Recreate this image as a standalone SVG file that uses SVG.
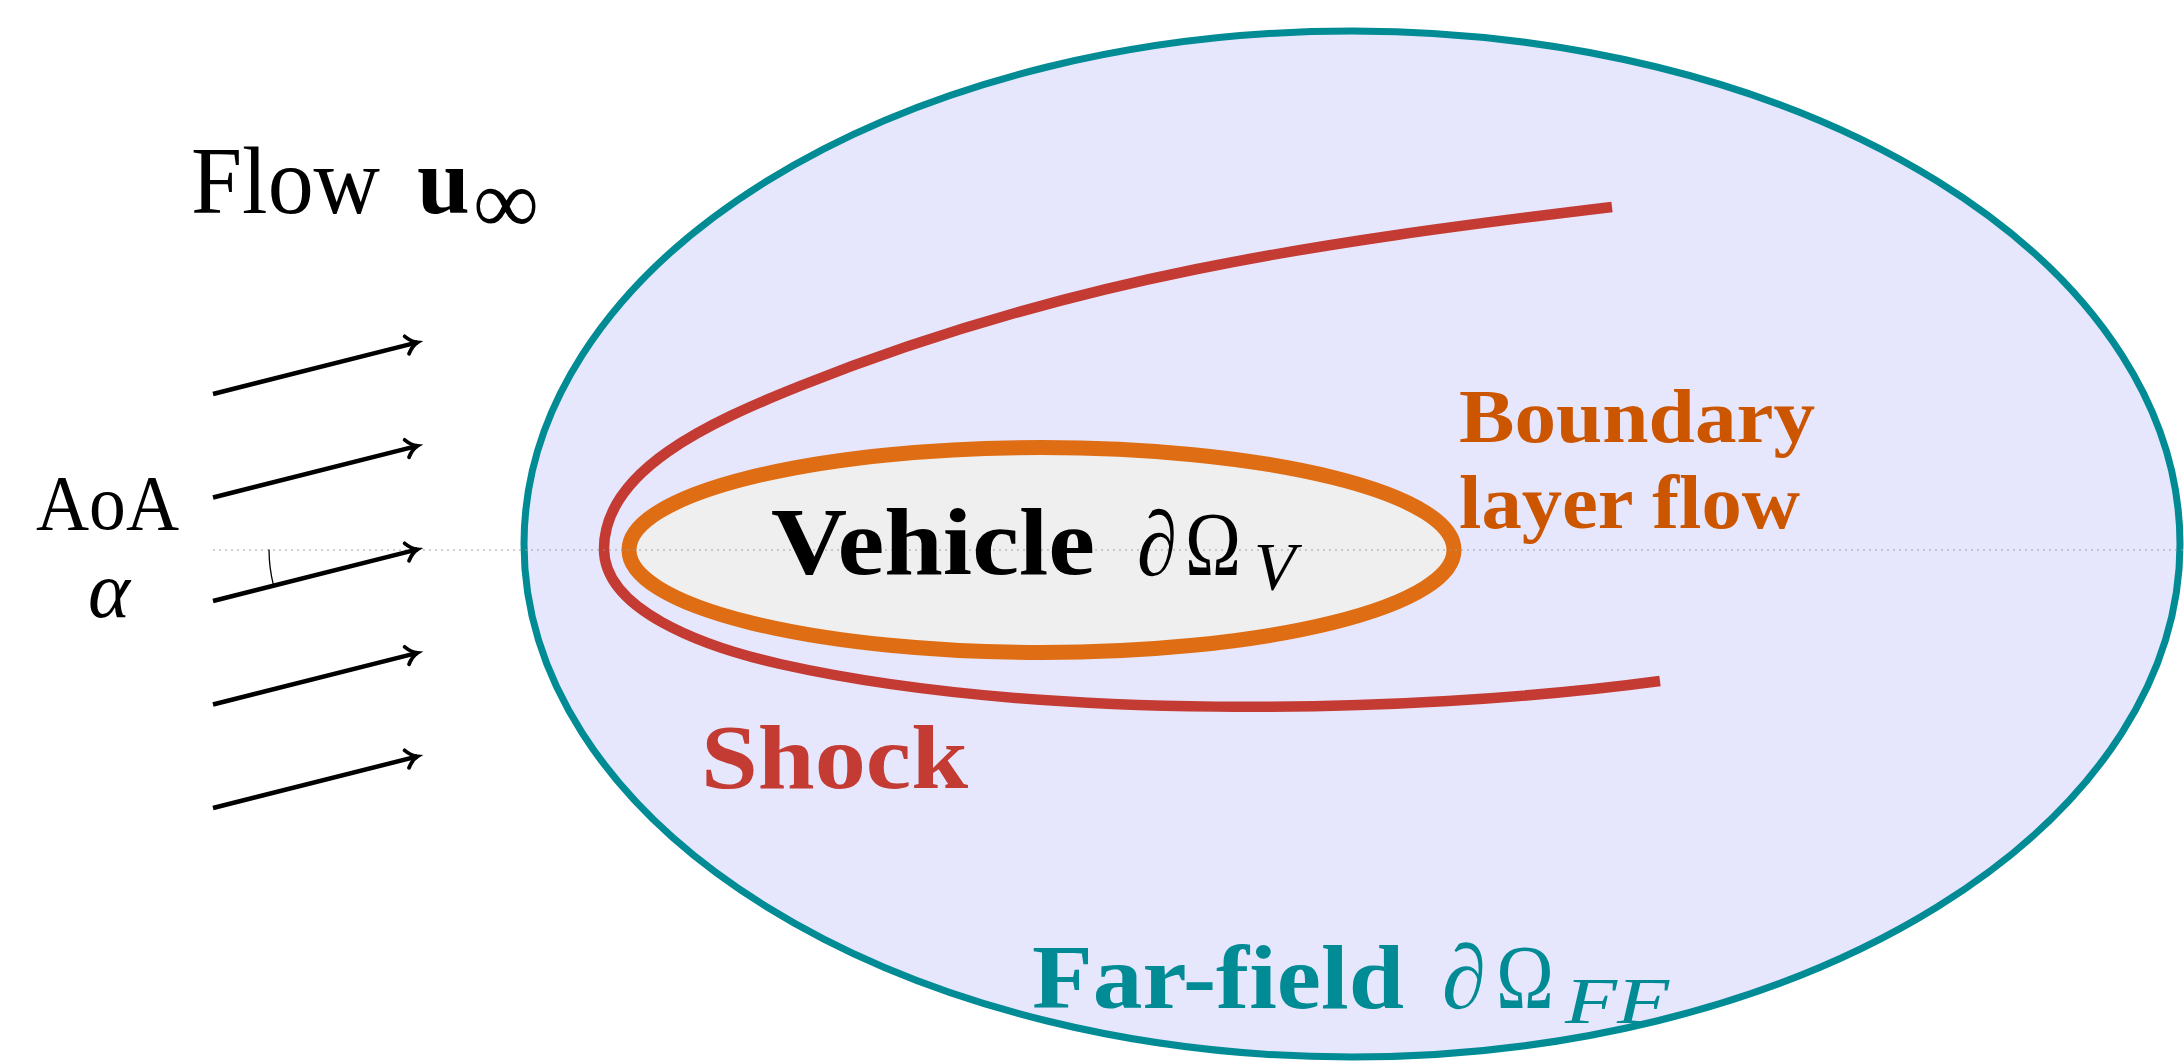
<svg xmlns="http://www.w3.org/2000/svg" width="2184" height="1061" viewBox="0 0 2184 1061">
<style>
.serif{font-family:"Liberation Serif","DejaVu Serif",serif}
.b{font-weight:bold}
.it{font-style:italic}
.blk{fill:#000}
.teal{fill:#008B95}
.red{fill:#C33B32}
.orn{fill:#CC5500}
.flowarrow{stroke:#000;stroke-width:4.5;fill:none;marker-end:url(#to)}
</style>
<defs>
<marker id="to" markerUnits="userSpaceOnUse" viewBox="-14 -12 16 24" markerWidth="16" markerHeight="24" refX="0" refY="0" orient="auto" overflow="visible">
<path d="M -11,-9 C -7,-3.5 -3,-1 0,0 C -3,1 -7,3.5 -11,9" fill="none" stroke="#000" stroke-width="3.8" stroke-linecap="round"/>
</marker>
</defs>
<rect width="2184" height="1061" fill="#fff"/>

<g id="farfield">
<ellipse cx="1352" cy="544" rx="828" ry="513" fill="#E6E6FC" stroke="#008B95" stroke-width="7"/>
</g>

<g id="shock">
<path d="M1612,207 C1312,243 1070,278 800,386 C710,422 604,470 604,549 C604,609 700,646 780,664 C1030,720 1400,716 1660,681" fill="none" stroke="#C33B32" stroke-width="10.5"/>
</g>

<g id="vehicle">
<ellipse cx="1041.5" cy="550" rx="412.5" ry="102.5" fill="#EFEFEF" stroke="#DF6D14" stroke-width="15"/>
</g>

<line id="axis" x1="213" y1="550" x2="2184" y2="550" stroke="#999" stroke-opacity="0.6" stroke-width="1.5" stroke-dasharray="2 4"/>

<g id="vehicle-label" class="serif blk">
<text x="771" y="574" font-size="95" class="b" textLength="324" lengthAdjust="spacingAndGlyphs">Vehicle</text>
<text x="1137" y="575" font-size="92" class="it" textLength="40" lengthAdjust="spacingAndGlyphs">∂</text>
<text x="1185" y="575" font-size="92" textLength="56" lengthAdjust="spacingAndGlyphs">Ω</text>
<text x="1254" y="589" font-size="68" class="it">V</text>
</g>

<g id="boundary-label" class="serif b orn">
<text x="1459" y="442" font-size="76" textLength="356" lengthAdjust="spacingAndGlyphs">Boundary</text>
<text x="1459" y="528" font-size="76" textLength="341" lengthAdjust="spacingAndGlyphs">layer flow</text>
</g>

<g id="shock-label" class="serif b red">
<text x="701" y="788" font-size="92" textLength="267" lengthAdjust="spacingAndGlyphs">Shock</text>
</g>

<g id="farfield-label" class="serif teal">
<text x="1032" y="1008" font-size="91" class="b" textLength="372" lengthAdjust="spacingAndGlyphs">Far-field</text>
<text x="1442" y="1008" font-size="91" class="it" textLength="44" lengthAdjust="spacingAndGlyphs">∂</text>
<text x="1496" y="1008" font-size="91" textLength="58" lengthAdjust="spacingAndGlyphs">Ω</text>
<text x="1565" y="1023" font-size="65" class="it" textLength="104" lengthAdjust="spacingAndGlyphs">FF</text>
</g>

<g id="flow-label" class="serif blk">
<text x="191" y="213" font-size="95" textLength="189" lengthAdjust="spacingAndGlyphs">Flow</text>
<text x="417" y="213" font-size="95" class="b">u</text>
<text x="473" y="233" font-size="92" textLength="66" lengthAdjust="spacingAndGlyphs">∞</text>
</g>

<g id="aoa-label" class="serif blk">
<text x="36" y="529" font-size="78" textLength="143" lengthAdjust="spacingAndGlyphs">AoA</text>
<text x="88" y="617" font-size="80" class="it">α</text>
</g>

<g id="connectors">
<line class="flowarrow" x1="213" y1="394" x2="417.5" y2="342.4"/>
<line class="flowarrow" x1="213" y1="497.5" x2="417.5" y2="445.9"/>
<line class="flowarrow" x1="213" y1="601" x2="417.5" y2="549.4"/>
<line class="flowarrow" x1="213" y1="704.5" x2="417.5" y2="652.9"/>
<line class="flowarrow" x1="213" y1="808" x2="417.5" y2="756.4"/>
<path id="aoa-arc" d="M269,549.5 A150,150 0 0 0 273.6,585.7" fill="none" stroke="#000" stroke-width="1.3"/>
</g>
</svg>
